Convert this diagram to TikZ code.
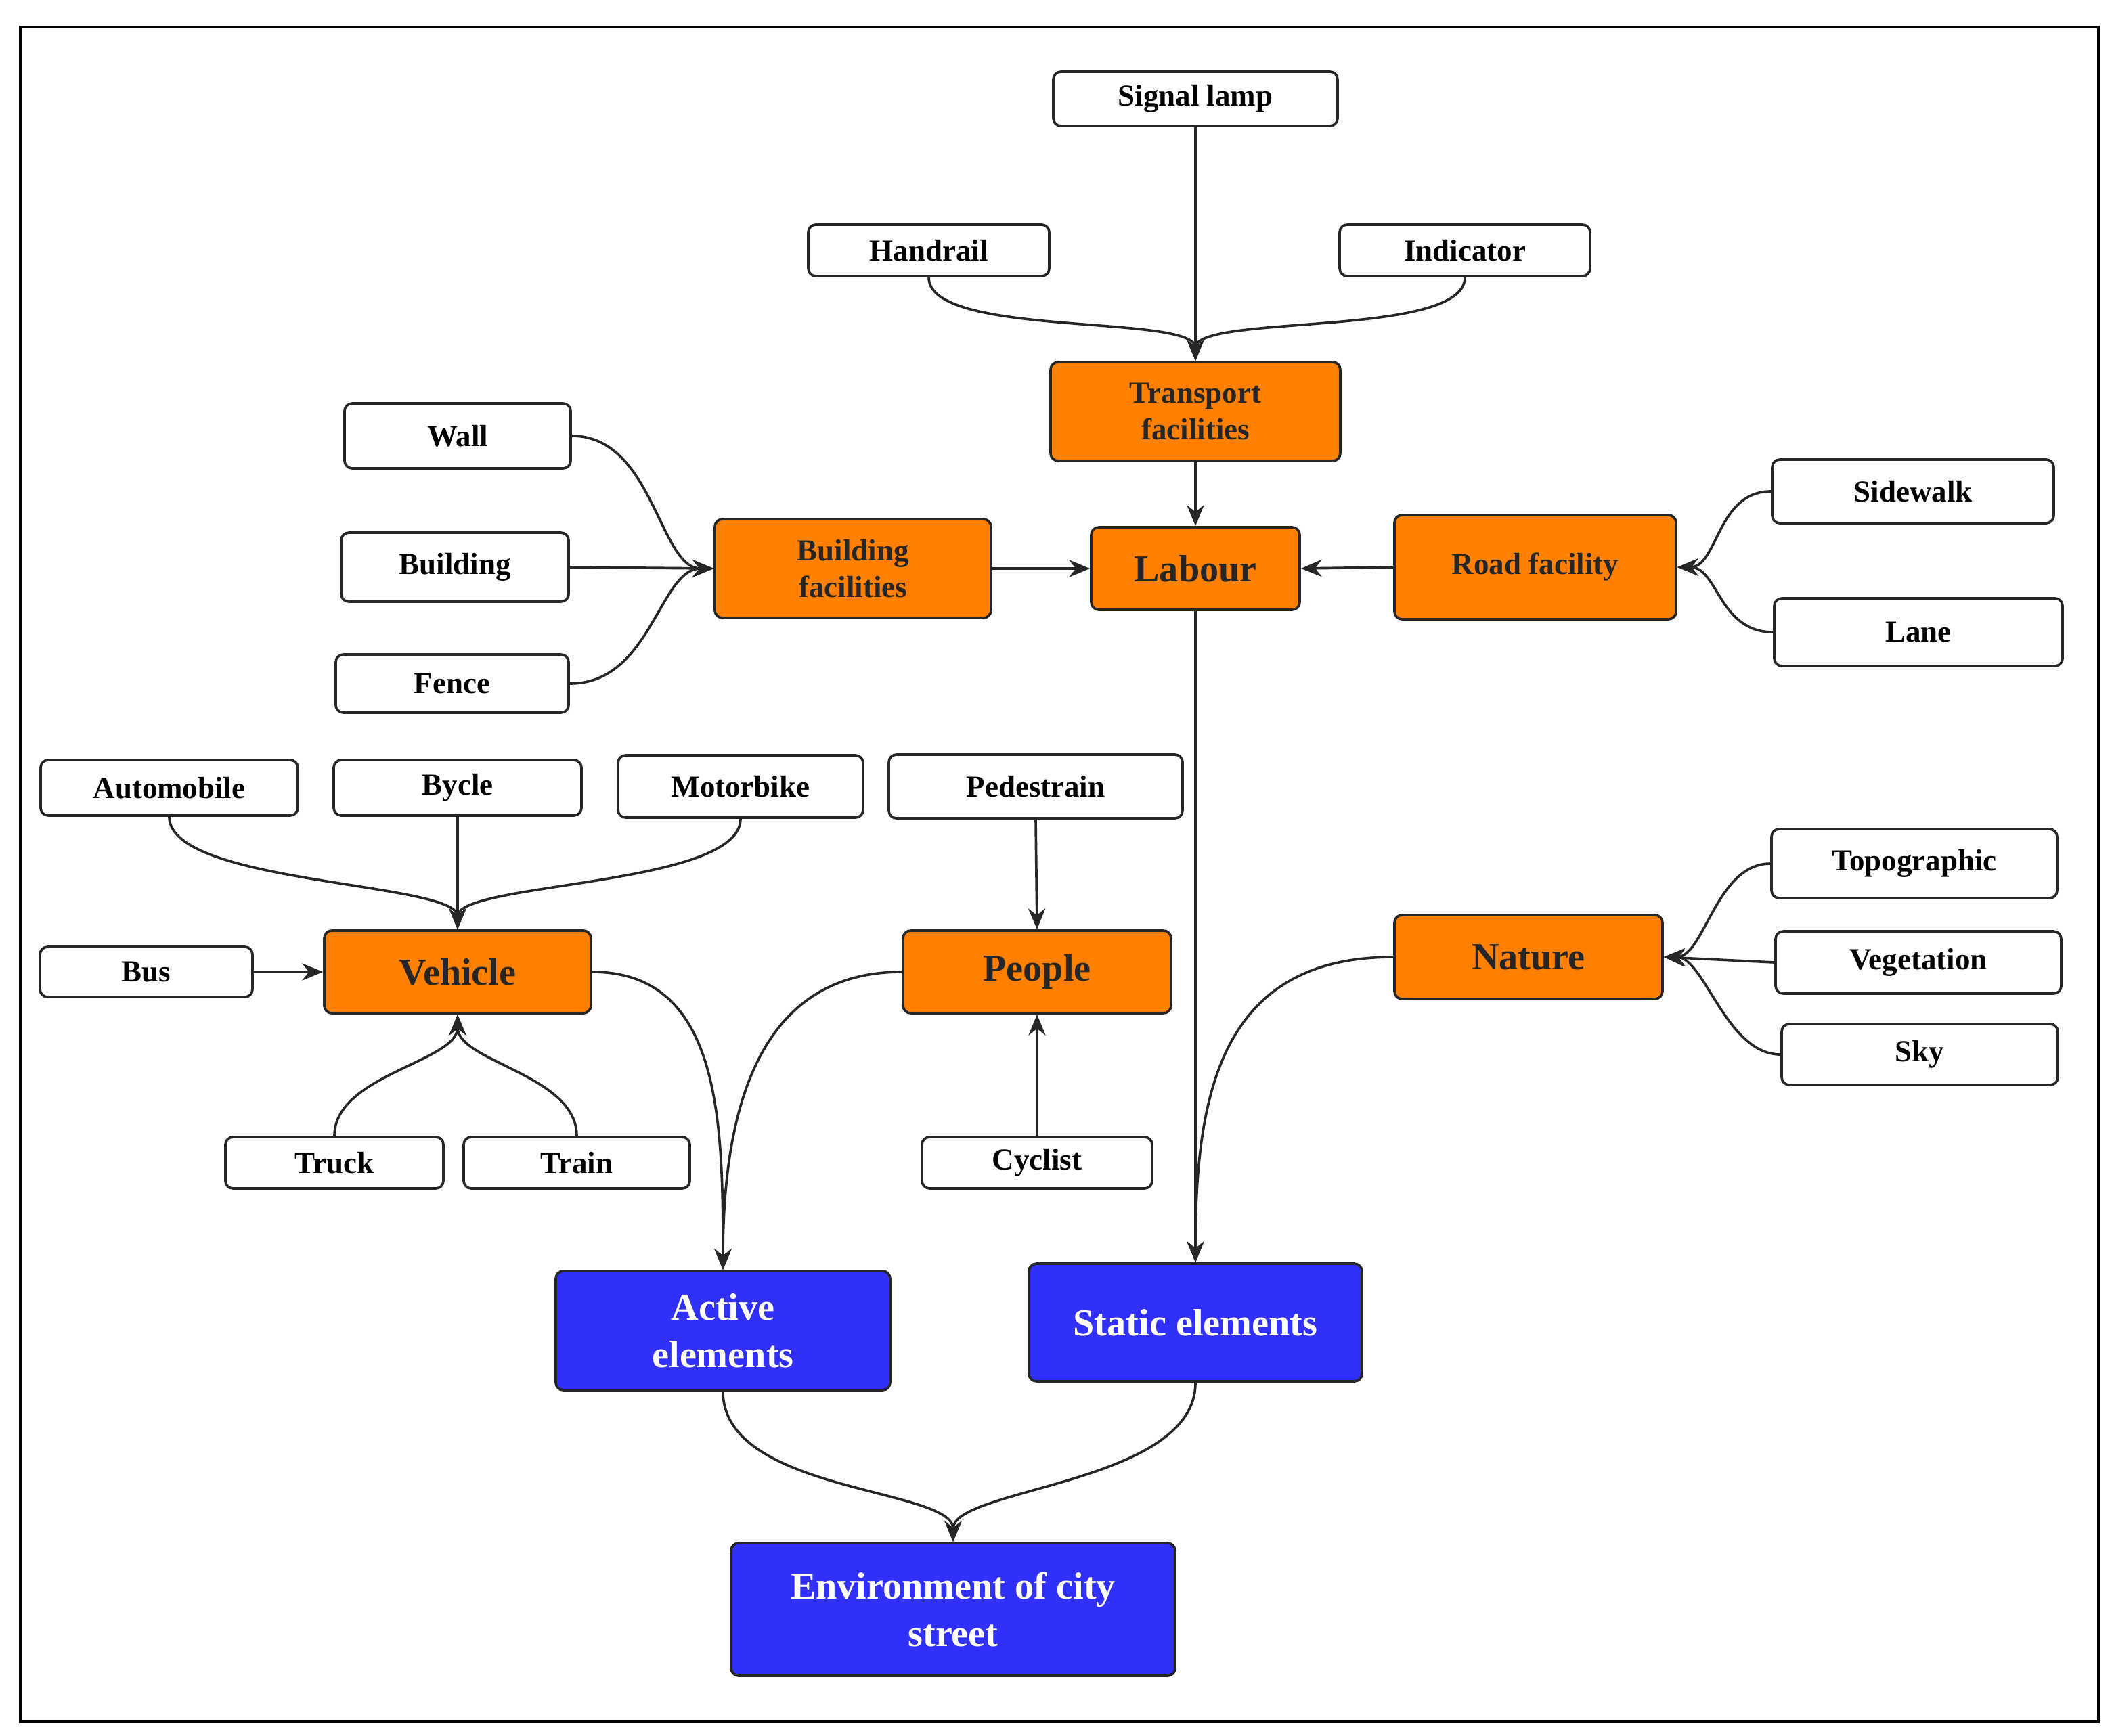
\documentclass[tikz,border=0pt]{standalone}
\usepackage{fontspec}
\setmainfont{Liberation Serif}
\usetikzlibrary{arrows.meta}
\definecolor{org}{HTML}{FF8000}
\definecolor{blu}{HTML}{3030F8}
\newcommand{\bx}[7]{\node[#1,minimum width={#5*0.05cm},minimum height={#6*0.05cm}] (#2) at (#3,#4) {#7};}
\begin{document}
\begin{tikzpicture}[x=0.05cm,y=-0.05cm,
  base/.style={draw=black!85,line width=2.6pt,rounded corners=8pt,align=center,font=\bfseries\fontsize{32}{38}\selectfont,inner sep=2pt},
  wb/.style={base,fill=white},
  ob/.style={base,fill=org,text=black!85},
  obig/.style={ob,font=\bfseries\fontsize{40}{46}\selectfont},
  bb/.style={base,fill=blu,text=white,font=\bfseries\fontsize{40}{50}\selectfont},
  con/.style={draw=black!85,line width=2.6pt,-{Stealth[length=22pt,width=18pt]}}]
\useasboundingbox (0,0) rectangle (1560,1282);
\draw[line width=3pt] (15,20) rectangle (1550,1272);
\bx{wb}{sig}{883}{73}{210}{40}{Signal lamp}
\bx{wb}{hand}{686}{185}{178}{38}{Handrail}
\bx{wb}{ind}{1082}{185}{185}{38}{Indicator}
\bx{ob}{trans}{883}{304}{214}{73}{Transport\\facilities}
\bx{wb}{wall}{338}{322}{167}{48}{Wall}
\bx{wb}{bld}{336}{419}{168}{51}{Building}
\bx{wb}{fence}{334}{505}{172}{43}{Fence}
\bx{ob}{bf}{630}{420}{204}{73}{Building\\facilities}
\bx{obig}{lab}{883}{420}{154}{61}{Labour}
\bx{ob}{road}{1134}{419}{208}{77}{Road facility}
\bx{wb}{side}{1413}{363}{208}{47}{Sidewalk}
\bx{wb}{lane}{1417}{467}{213}{50}{Lane}
\bx{wb}{auto}{125}{582}{190}{41}{Automobile}
\bx{wb}{byc}{338}{582}{183}{41}{Bycle}
\bx{wb}{moto}{547}{581}{181}{46}{Motorbike}
\bx{wb}{ped}{765}{581}{217}{47}{Pedestrain}
\bx{wb}{bus}{108}{718}{157}{37}{Bus}
\bx{obig}{veh}{338}{718}{197}{61}{Vehicle}
\bx{obig}{peo}{766}{718}{198}{61}{People}
\bx{obig}{nat}{1129}{707}{198}{62}{Nature}
\bx{wb}{topo}{1414}{638}{211}{51}{Topographic}
\bx{wb}{veg}{1417}{711}{211}{46}{Vegetation}
\bx{wb}{sky}{1418}{779}{204}{45}{Sky}
\bx{wb}{truck}{247}{859}{161}{38}{Truck}
\bx{wb}{train}{426}{859}{167}{38}{Train}
\bx{wb}{cyc}{766}{859}{170}{38}{Cyclist}
\bx{bb}{act}{534}{983}{247}{88}{Active\\elements}
\bx{bb}{stat}{883}{977}{246}{87}{Static elements}
\bx{bb}{env}{704}{1189}{328}{98}{Environment of city\\street}
% connectors
\draw[con] (sig.south) -- (trans.north);
\draw[con] (hand.south) .. controls +(0,45) and +(0,-35) .. (trans.north);
\draw[con] (ind.south) .. controls +(0,45) and +(0,-35) .. (trans.north);
\draw[con] (trans.south) -- (lab.north);
\draw[con] (wall.east) .. controls +(60,0) and +(-40,0) .. (bf.west);
\draw[con] (bld.east) -- (bf.west);
\draw[con] (fence.east) .. controls +(60,0) and +(-40,0) .. (bf.west);
\draw[con] (bf.east) -- (lab.west);
\draw[con] (road.west) -- (lab.east);
\draw[con] (side.west) .. controls +(-40,0) and +(30,0) .. (road.east);
\draw[con] (lane.west) .. controls +(-40,0) and +(30,0) .. (road.east);
\draw[con] (auto.south) .. controls +(0,50) and +(0,-35) .. (veh.north);
\draw[con] (byc.south) -- (veh.north);
\draw[con] (moto.south) .. controls +(0,50) and +(0,-35) .. (veh.north);
\draw[con] (bus.east) -- (veh.west);
\draw[con] (truck.north) .. controls +(0,-45) and +(0,35) .. (veh.south);
\draw[con] (train.north) .. controls +(0,-45) and +(0,35) .. (veh.south);
\draw[con] (ped.south) -- (peo.north);
\draw[con] (cyc.north) -- (peo.south);
\draw[con] (topo.west) .. controls +(-40,0) and +(30,0) .. (nat.east);
\draw[con] (veg.west) -- (nat.east);
\draw[con] (sky.west) .. controls +(-40,0) and +(30,0) .. (nat.east);
\draw[con] (veh.east) .. controls +(95,0) and +(0,-110) .. (act.north);
\draw[con] (peo.west) .. controls +(-110,0) and +(0,-110) .. (act.north);
\draw[con] (lab.south) -- (stat.north);
\draw[con] (nat.west) .. controls +(-130,0) and +(0,-120) .. (stat.north);
\draw[con] (act.south) .. controls +(0,75) and +(0,-40) .. (env.north);
\draw[con] (stat.south) .. controls +(0,75) and +(0,-40) .. (env.north);
\end{tikzpicture}
\end{document}
